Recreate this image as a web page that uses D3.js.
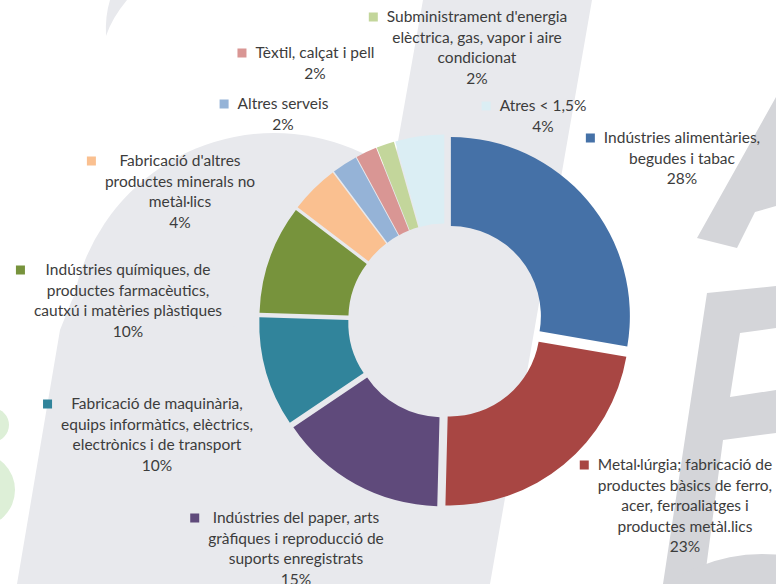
<!DOCTYPE html>
<html><head><meta charset="utf-8">
<script src="https://cdn.jsdelivr.net/npm/d3@7"></script>
<style>
html,body{margin:0;padding:0;background:#fff;}
svg{display:block;}
text{font-family:Lato,"Open Sans",sans-serif;fill:#3c3c3c;}
</style></head>
<body>
<svg id="chart" width="776" height="584"></svg>
<script>
// ---- data ----
const categories = [
  "Indústries alimentàries,\nbegudes i tabac",
  "Metal·lúrgia; fabricació de\nproductes bàsics de ferro,\nacer, ferroaliatges i\nproductes metàl.lics",
  "Indústries del paper, arts\ngràfiques i reproducció de\nsuports enregistrats",
  "Fabricació de maquinària,\nequips informàtics, elèctrics,\nelectrònics i de transport",
  "Indústries químiques, de\nproductes farmacèutics,\ncautxú i matèries plàstiques",
  "Fabricació d'altres\nproductes minerals no\nmetàl·lics",
  "Altres serveis",
  "Tèxtil, calçat i pell",
  "Subministrament d'energia\nelèctrica, gas, vapor i aire\ncondicionat",
  "Atres < 1,5%"
];
const values = [27.6, 22.6, 15.1, 9.9, 9.8, 4.4, 2.3, 1.9, 1.6, 4.4];
const colors = ["#4571A7", "#A84643", "#5F4A7B", "#31849B", "#77933C",
                "#FAC090", "#95B3D7", "#D99694", "#C3D69B", "#DBEEF4"];

// ---- layout ----
const W = 776, H = 584;
const cx = 445.3, cy = 320.8, outerR = 179, innerR = 90, explode = 7.3;
const labelPos = [
  [682, 138], [685, 465], [296, 518], [157, 404], [128, 270],
  [180, 161], [283, 104], [315, 53], [477, 17], [543, 106]
];
const lineH = 20.4;

const svg = d3.select("#chart");
svg.append("rect").attr("width", W).attr("height", H).attr("fill", "#fff");

// ---- background watermark ----
const bg = svg.append("g");
const light = "#E8E9ED", dark = "#D4D5D9", green = "#DDEFD7";
bg.append("circle").attr("cx", 274).attr("cy", 337).attr("r", 204).attr("fill", light);
bg.append("path").attr("fill", light)
  .attr("d", "M72,300 L60,330 L17,584 L490,584 L592,0 L423,0 L392,175 L274,337 L80,285 Z");
bg.append("path").attr("fill", light)
  .attr("d", "M110,0 L127,0 Q112,18 106,36 Q105,16 110,0 Z");
bg.append("path").attr("fill", dark)
  .attr("d", "M776,97 L697,238 L737,248 L755,212 L776,206 Z");
bg.append("path").attr("fill", dark)
  .attr("d", "M707,293 L776,286 L776,328 L740,333 L730,397 L776,390 L776,433 L723,440 L704,584 L663,584 Z");
bg.append("circle").attr("cx", 762).attr("cy", 720).attr("r", 166).attr("fill", dark);
bg.append("circle").attr("cx", -8).attr("cy", 425).attr("r", 17).attr("fill", green);
bg.append("circle").attr("cx", -22).attr("cy", 490).attr("r", 37).attr("fill", green);

// ---- donut ----
const pie = d3.pie().sort(null).value(d => d).startAngle(0).endAngle(2 * Math.PI);
const arcs = pie(values);
const arc = d3.arc().innerRadius(innerR).outerRadius(outerR);
const total = d3.sum(values);

const g = svg.append("g").attr("transform", `translate(${cx},${cy})`);
g.selectAll("path.slice").data(arcs).join("path")
  .attr("class", "slice")
  .attr("d", arc)
  .attr("fill", (d, i) => colors[i])
  .attr("transform", d => {
    const m = (d.startAngle + d.endAngle) / 2;
    return `translate(${explode * Math.sin(m)},${-explode * Math.cos(m)})`;
  });

// ---- labels ----
const fontSize = 15.5;
arcs.forEach((d, i) => {
  const lines = categories[i].split("\n").concat([Math.round(values[i] / total * 100) + "%"]);
  const [lx, ly] = labelPos[i];
  const lg = svg.append("g");
  let maxW = 0;
  lines.forEach((t, k) => {
    const tx = lg.append("text")
      .attr("x", lx).attr("y", ly + k * lineH)
      .attr("dy", "0.35em")
      .attr("text-anchor", "middle")
      .style("font-size", fontSize + "px")
      .text(t);
    maxW = Math.max(maxW, tx.node().getComputedTextLength());
  });
  const ms = 9;
  lg.append("rect")
    .attr("x", lx - maxW / 2 - 9 - ms)
    .attr("y", ly - ms / 2)
    .attr("width", ms).attr("height", ms)
    .attr("fill", colors[i]);
});
</script>
</body></html>
